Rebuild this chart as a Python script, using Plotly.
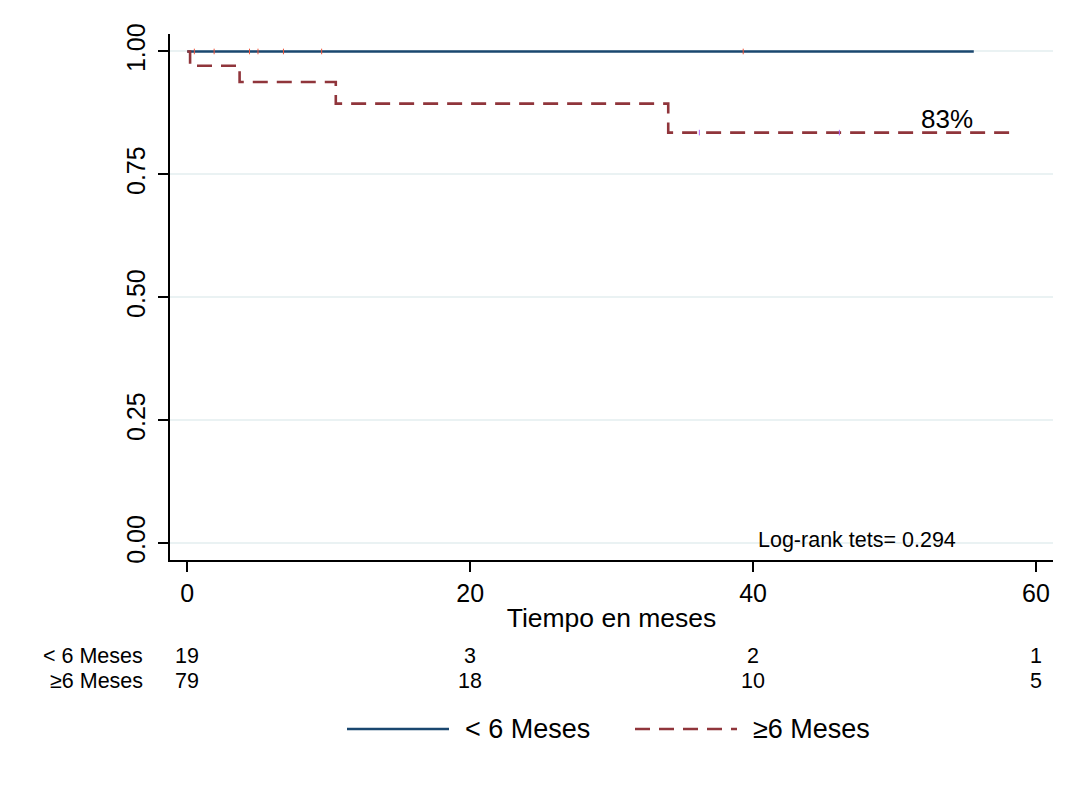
import plotly.graph_objects as go

# Kaplan-Meier steps
blue_x = [0, 55.6]
blue_y = [1.0, 1.0]
blue_cens_x = [0.5, 1.9, 4.4, 5.0, 6.8, 9.5, 39.3]
red_x = [0, 0.2, 0.2, 3.7, 3.7, 10.5, 10.5, 34.0, 34.0, 58.5]
red_y = [1.0, 1.0, 0.971, 0.971, 0.938, 0.938, 0.894, 0.894, 0.835, 0.835]
red_cens_x = [36.2, 46.1]
red_cens_y = [0.835, 0.835]

risk_times = [0, 20, 40, 60]
risk_lt6 = [19, 3, 2, 1]
risk_ge6 = [79, 18, 10, 5]
group_names = ["< 6 Meses", "≥6 Meses"]
yticks = [0, 0.25, 0.5, 0.75, 1.0]
ytick_text = ["0.00", "0.25", "0.50", "0.75", "1.00"]
xticks = [0, 20, 40, 60]

BLUE = "#1a476f"
RED = "#90353b"
GRID = "#eaf2f3"
FONT = "Liberation Sans, Arial, sans-serif"
LW = 2.6

# figure placed in the page with the default 8px body margin
FW, FH = 1060, 770
XOFF = 8
# measured page-to-photo vertical mapping: photo_y = YA + YS * fig_y
YA, YS = 17.96, 0.982


def px(xt):
    return (xt - XOFF) / FW


def py(yt):
    return (FH - (yt - YA) / YS) / FH


fig = go.Figure()
fig.add_trace(go.Scatter(x=blue_x, y=blue_y, mode="lines",
                         line=dict(color=BLUE, width=LW), name=group_names[0],
                         showlegend=False))
fig.add_trace(go.Scatter(x=blue_cens_x, y=[1.0] * len(blue_cens_x), mode="markers",
                         marker=dict(symbol="line-ns-open", size=4,
                                     line=dict(color="#b8c6d3", width=1)),
                         showlegend=False, hoverinfo="skip"))
fig.add_trace(go.Scatter(x=red_x, y=red_y, mode="lines",
                         line=dict(color=RED, width=LW, dash="15px,9px"),
                         name=group_names[1], showlegend=False))
fig.add_trace(go.Scatter(x=red_cens_x, y=red_cens_y, mode="markers",
                         marker=dict(symbol="line-ns-open", size=4,
                                     line=dict(color="#d8b7ba", width=1)),
                         showlegend=False, hoverinfo="skip"))

xr = [-1.22, 61.2]
yr = [-0.0345, 1.0355]

fig.update_layout(
    width=FW, height=FH,
    margin=dict(l=0, r=0, t=0, b=0),
    paper_bgcolor="white", plot_bgcolor="white",
    font=dict(family=FONT, color="black"),
    showlegend=False,
    xaxis=dict(domain=[px(170), px(1053)], range=xr, tickvals=xticks,
               ticks="outside", ticklen=10, tickwidth=1.5, tickcolor="black",
               showline=True, linecolor="black", linewidth=1.5,
               showgrid=False, zeroline=False,
               tickfont=dict(size=25, family=FONT), ticklabelstandoff=0,
               title=dict(text="Tiempo en meses", font=dict(size=26.5, family=FONT),
                          standoff=2)),
    yaxis=dict(domain=[py(560), py(33)], range=yr, tickvals=yticks, ticktext=ytick_text,
               tickangle=-90, ticks="outside", ticklen=10, tickwidth=1.5,
               tickcolor="black", showline=True, linecolor="black", linewidth=1.5,
               showgrid=True, gridcolor=GRID, gridwidth=1.5, zeroline=False,
               tickfont=dict(size=25, family=FONT), ticklabelstandoff=3),
)

ann = []
ann.append(dict(x=53.7, y=0.8633, xref="x", yref="y", text="83%", showarrow=False,
                xanchor="center", yanchor="middle",
                font=dict(size=26, family=FONT)))
ann.append(dict(x=47.35, y=0.006, xref="x", yref="y", text="Log-rank tets= 0.294",
                showarrow=False, xanchor="center", yanchor="middle",
                font=dict(size=21.5, family=FONT)))
# risk table
for lab, vals, ypx in [(group_names[0], risk_lt6, 656), (group_names[1], risk_ge6, 681)]:
    ann.append(dict(x=px(145), y=py(ypx), xref="paper", yref="paper", text=lab,
                    showarrow=False, xanchor="right", yanchor="middle",
                    font=dict(size=21.5, family=FONT)))
    for t, v in zip(risk_times, vals):
        ann.append(dict(x=t, y=py(ypx), xref="x", yref="paper", text=str(v),
                        showarrow=False, xanchor="center", yanchor="middle",
                        font=dict(size=21.5, family=FONT)))
# legend
ly = py(729)
ann.append(dict(x=px(463), y=ly, xref="paper", yref="paper", text=group_names[0],
                showarrow=False, xanchor="left", yanchor="middle",
                font=dict(size=27, family=FONT)))
ann.append(dict(x=px(751), y=ly, xref="paper", yref="paper", text=group_names[1],
                showarrow=False, xanchor="left", yanchor="middle",
                font=dict(size=27, family=FONT)))
fig.update_layout(annotations=ann)

shapes = [
    dict(type="line", xref="paper", yref="paper", x0=px(347), x1=px(449), y0=ly, y1=ly,
         line=dict(color=BLUE, width=LW)),
    dict(type="line", xref="paper", yref="paper", x0=px(635), x1=px(737), y0=ly, y1=ly,
         line=dict(color=RED, width=LW, dash="15px,9px")),
]
fig.update_layout(shapes=shapes)

fig.write_html("out.html", config={"displayModeBar": False})
